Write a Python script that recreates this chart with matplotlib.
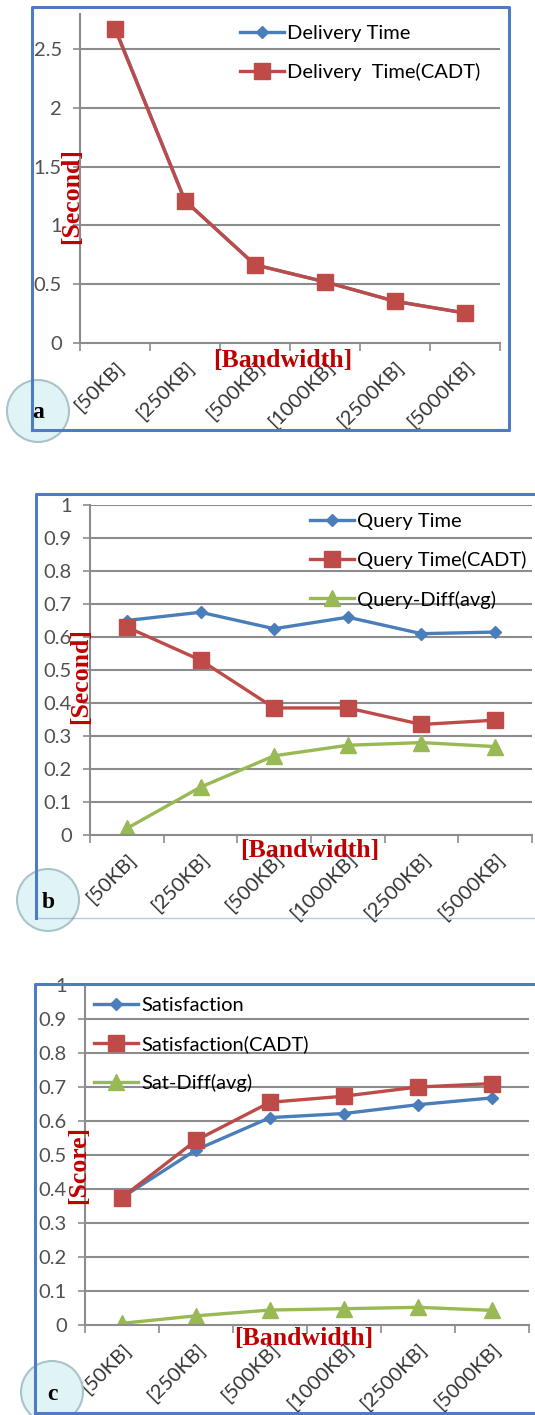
import numpy as np
import matplotlib
matplotlib.use("Agg")
import matplotlib.pyplot as plt
from matplotlib.patches import Circle

# ---- data ----
bandwidth = ["[50KB]", "[250KB]", "[500KB]", "[1000KB]", "[2500KB]", "[5000KB]"]

delivery_time = [2.68, 1.21, 0.665, 0.52, 0.355, 0.255]
delivery_time_cadt = [2.67, 1.21, 0.665, 0.52, 0.355, 0.255]

query_time = [0.65, 0.675, 0.625, 0.66, 0.61, 0.615]
query_time_cadt = [0.63, 0.53, 0.385, 0.385, 0.335, 0.348]
query_diff = [0.02, 0.145, 0.24, 0.272, 0.28, 0.268]

satisfaction = [0.375, 0.515, 0.61, 0.622, 0.648, 0.668]
satisfaction_cadt = [0.375, 0.543, 0.655, 0.673, 0.70, 0.71]
sat_diff = [0.005, 0.027, 0.044, 0.048, 0.052, 0.043]

BLUE = "#4A7EBB"
RED = "#BE4B48"
GREEN = "#98B954"
DARKRED = "#C00000"
BORDER = "#4F7CC0"
GRID = "#8C8C8C"
TXT = "#333333"

W, H = 535, 1415
fig = plt.figure(figsize=(W / 100, H / 100), dpi=100)
fig.patch.set_facecolor("white")


def px_axes(x0, y0, x1, y1):
    # pixel box (top-left origin) -> figure fraction
    return fig.add_axes([x0 / W, 1 - y1 / H, (x1 - x0) / W, (y1 - y0) / H])


def style_axes(ax, ymax, ystep, fmt):
    n = len(bandwidth)
    x = np.arange(n)
    ax.set_xlim(-0.5, n - 0.5)
    ax.set_ylim(0, ymax)
    yt = np.arange(0, ymax + 1e-9, ystep)
    ax.set_yticks(yt)
    ax.set_yticklabels([fmt(v) for v in yt], fontsize=14.5, color="#505050",
                       family="Lato")
    ax.set_xticks(x)
    ax.set_xticklabels(bandwidth, rotation=45, ha="right", va="top",
                       rotation_mode="anchor", fontsize=14.5, color=TXT,
                       family="Lato")
    ax.tick_params(axis="x", which="major", length=0, pad=11)
    ax.set_xticks(np.arange(-0.5, n), minor=True)
    ax.tick_params(axis="x", which="minor", length=6, width=1.2, color=GRID,
                   direction="out")
    ax.tick_params(axis="y", length=5, width=1.2, color=GRID, pad=8)
    ax.grid(axis="y", color=GRID, lw=1.5)
    ax.set_axisbelow(True)
    for s in ["top", "right"]:
        ax.spines[s].set_visible(False)
    for s in ["left", "bottom"]:
        ax.spines[s].set_color(GRID)
        ax.spines[s].set_linewidth(1.5)
    ax.patch.set_alpha(0)
    return x


def ftick(v):
    return "%g" % round(v, 2)


def put_legend(ax, hx, row_y):
    # hx, row_y: pixel position of the first legend handle / row centre
    ax.legend(loc="upper left",
              bbox_to_anchor=(hx / W, 1 - (row_y - 8) / H),
              bbox_transform=fig.transFigure,
              frameon=False, prop=dict(family="Lato", size=14.5),
              handlelength=2.2, handletextpad=0.15, labelspacing=1.05,
              borderpad=0, borderaxespad=0)


lab_font = dict(family="Liberation Serif", weight="bold", color=DARKRED,
                fontsize=18.5)

# ---- panel a ----
ax1 = px_axes(80, 13.7, 500, 343)
x = style_axes(ax1, 2.8, 0.5, ftick)
ax1.yaxis.get_gridlines()[0].set_visible(False)
ax1.plot(x, delivery_time, color=BLUE, lw=2.4, marker="D", ms=6,
         label="Delivery Time")
ax1.plot(x, delivery_time_cadt, color=RED, lw=2.4, marker="s", ms=11,
         label="Delivery  Time(CADT)")
put_legend(ax1, 240, 33)
fig.text(283 / W, 1 - 361 / H, "[Bandwidth]", ha="center", va="center", **lab_font)
fig.text(72 / W, 1 - 196 / H, "[Second]", ha="center", va="center",
         rotation=90, **lab_font)

# ---- panel b ----
ax2 = px_axes(90, 505, 532, 835)
x = style_axes(ax2, 1.0, 0.1, ftick)
ax2.yaxis.get_gridlines()[0].set_visible(False)
ax2.plot(x, query_time, color=BLUE, lw=2.4, marker="D", ms=6, label="Query Time")
ax2.plot(x, query_time_cadt, color=RED, lw=2.4, marker="s", ms=11,
         label="Query Time(CADT)")
ax2.plot(x, query_diff, color=GREEN, lw=2.4, marker="^", ms=11,
         label="Query-Diff(avg)")
put_legend(ax2, 310, 521)
fig.text(310 / W, 1 - 850 / H, "[Bandwidth]", ha="center", va="center", **lab_font)
fig.text(81 / W, 1 - 676 / H, "[Second]", ha="center", va="center",
         rotation=90, **lab_font)

# ---- panel c ----
ax3 = px_axes(85, 985, 529, 1325)
x = style_axes(ax3, 1.0, 0.1, ftick)
ax3.yaxis.get_gridlines()[0].set_visible(False)
ax3.plot(x, satisfaction, color=BLUE, lw=2.4, marker="D", ms=6,
         label="Satisfaction")
ax3.plot(x, satisfaction_cadt, color=RED, lw=2.4, marker="s", ms=11,
         label="Satisfaction(CADT)")
ax3.plot(x, sat_diff, color=GREEN, lw=2.4, marker="^", ms=11,
         label="Sat-Diff(avg)")
put_legend(ax3, 94, 1005)
fig.text(304 / W, 1 - 1339 / H, "[Bandwidth]", ha="center", va="center", **lab_font)
fig.text(79 / W, 1 - 1165 / H, "[Score]", ha="center", va="center",
         rotation=90, **lab_font)

# ---- frames and panel badges ----
over = fig.add_axes([0, 0, 1, 1], zorder=10)
over.set_xlim(0, W)
over.set_ylim(H, 0)
over.axis("off")
over.patch.set_alpha(0)
over.plot([32, 32, 509, 509, 32], [430, 7, 7, 430, 430], color=BORDER, lw=2.2)
over.plot([36, 36, 540], [918, 494, 494], color=BORDER, lw=2.2)
over.plot([36, 540], [918, 918], color=BORDER, lw=1.0, alpha=0.4)
over.plot([35, 35, 540], [1413, 984, 984], color=BORDER, lw=2.2)
over.plot([35, 540], [1413, 1413], color=BORDER, lw=2.2)

for (cx, cy, t) in [(38, 411, "a"), (48, 900, "b"), (52, 1392, "c")]:
    over.add_patch(Circle((cx, cy), 31, facecolor="#E0F3F5", edgecolor="#A9C4C9",
                          lw=1.5))
    over.text(cx, cy + 2, t, ha="center", va="center", fontsize=17,
              family="Liberation Serif", weight="bold", color="black")

fig.savefig("out.png", dpi=100)
